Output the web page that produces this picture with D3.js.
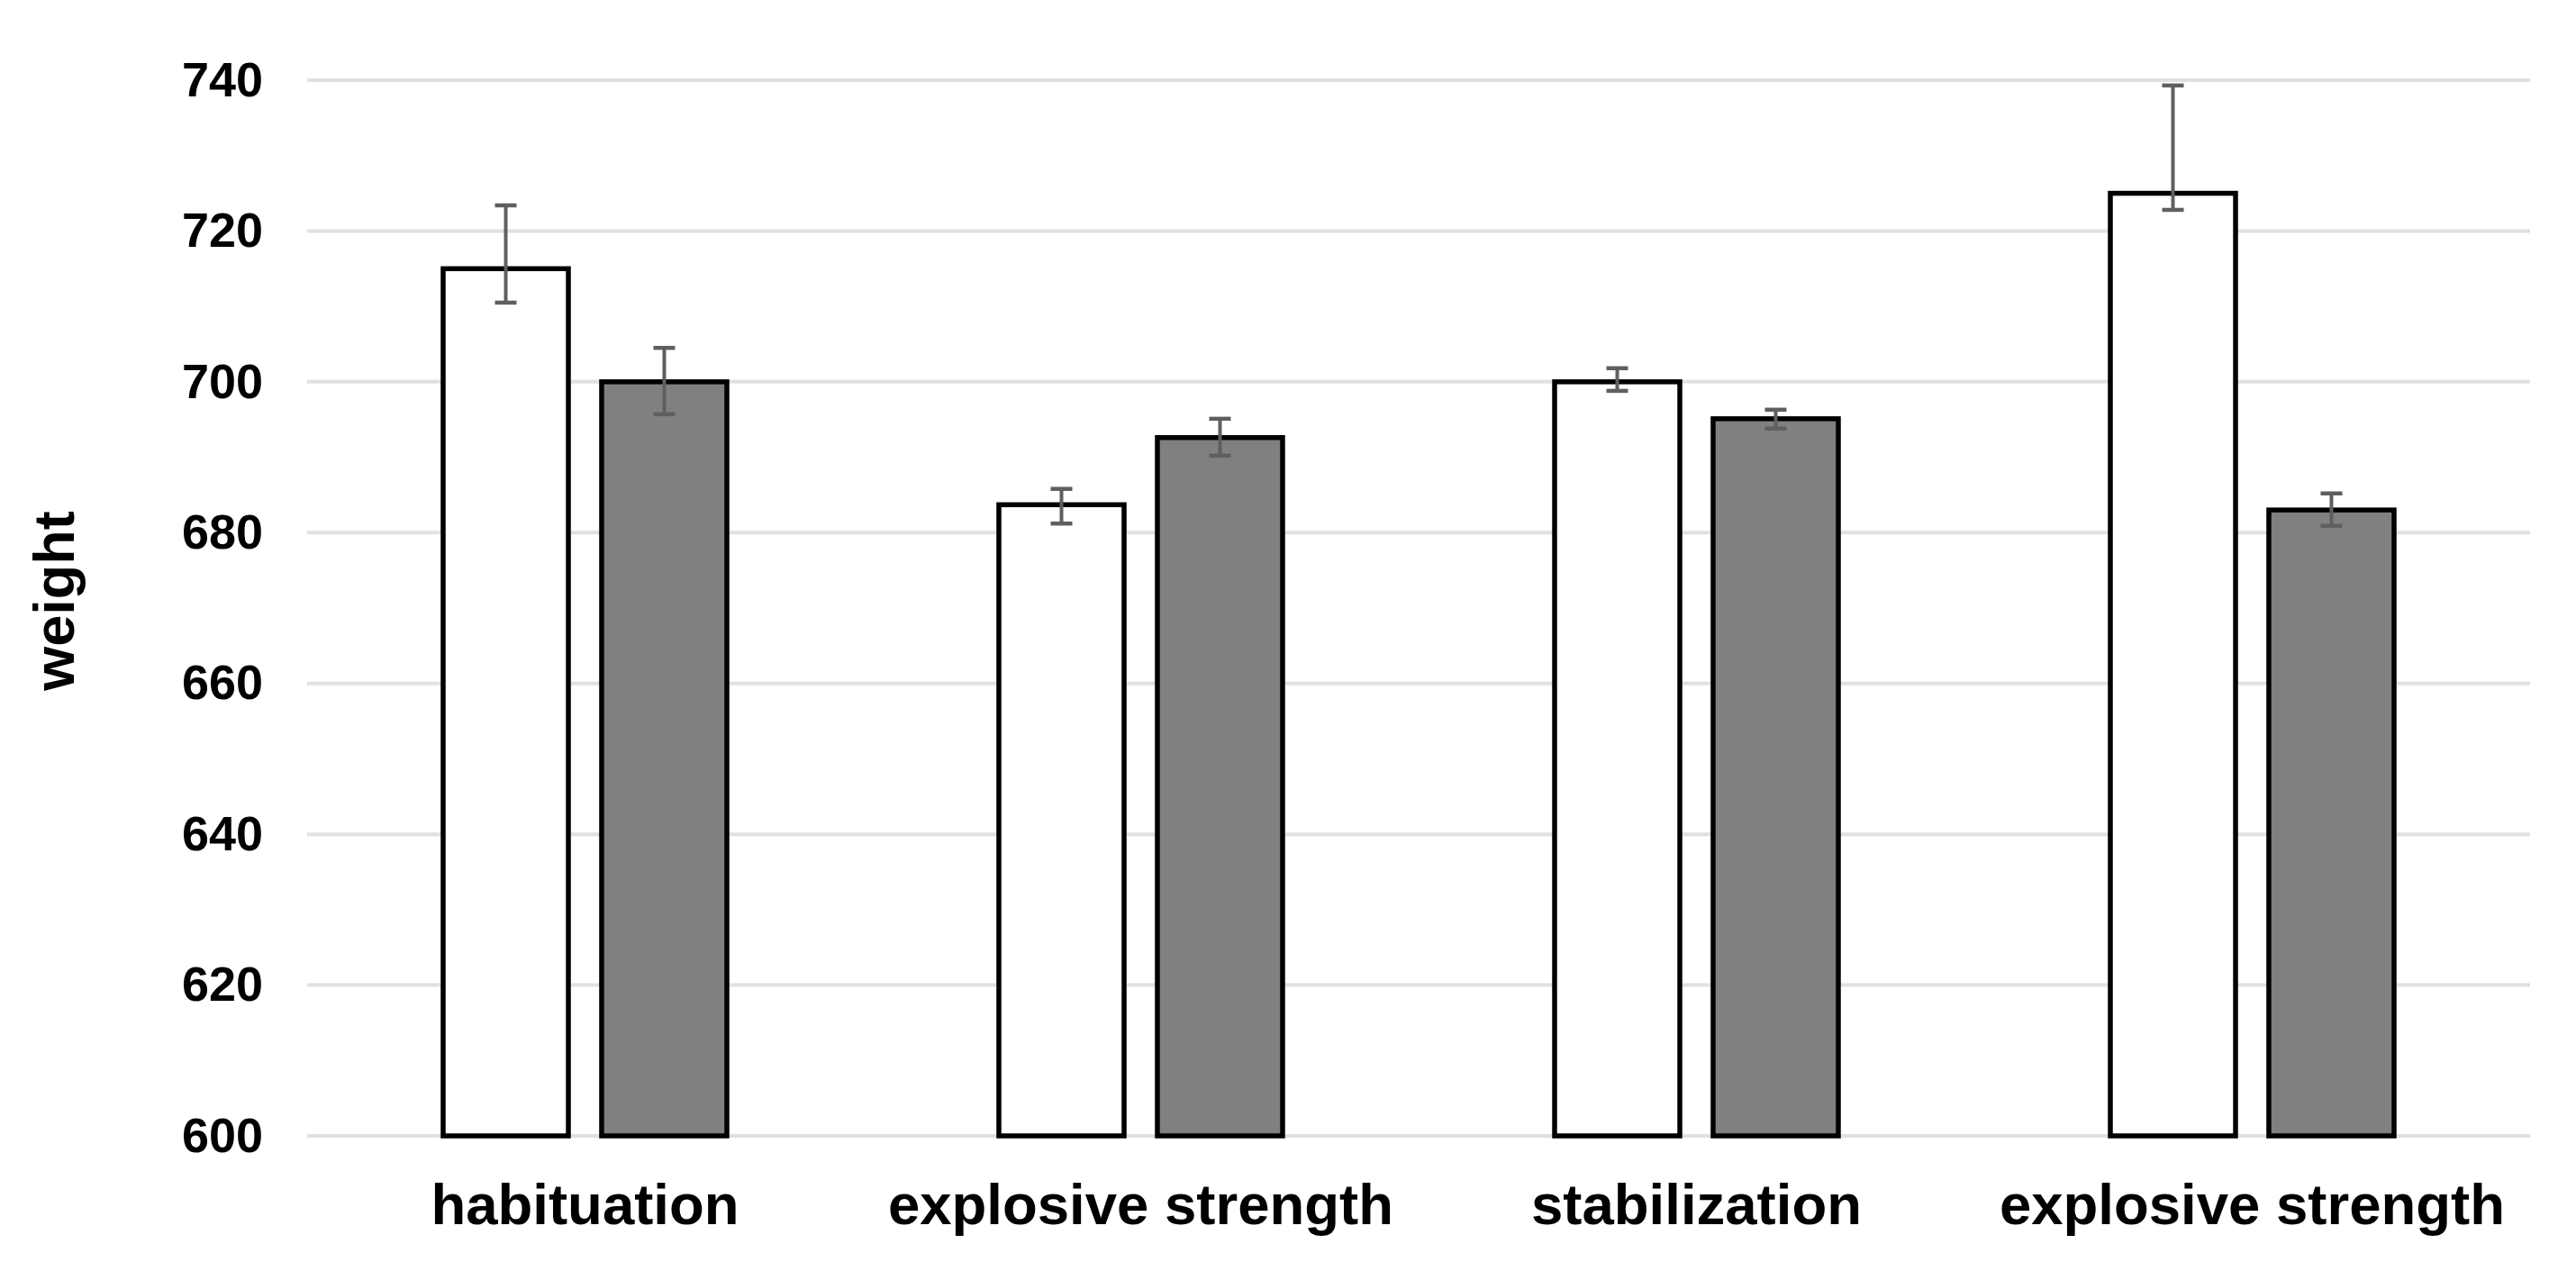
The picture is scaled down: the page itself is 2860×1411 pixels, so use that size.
<!DOCTYPE html>
<html>
<head>
<meta charset="utf-8">
<script src="https://cdn.jsdelivr.net/npm/d3@7"></script>
<style>
  body { margin: 0; background: #fff; }
  text { font-family: "Liberation Sans", Arial, sans-serif; font-weight: bold; fill: #000; }
</style>
</head>
<body>
<div id="chart"></div>
<script>
// data
var categories = ['habituation', 'explosive strength', 'stabilization', 'explosive strength '];
var series = ['white', 'grey'];
var whiteValues = [715, 683.7, 700, 725];
var whiteUpper = [723.4, 685.8, 701.8, 739.3];
var whiteLower = [710.5, 681.2, 698.8, 722.8];
var greyValues = [700, 692.6, 695.1, 683];
var greyUpper = [704.5, 695.1, 696.3, 685.2];
var greyLower = [695.7, 690.2, 693.8, 680.9];
var yTicks = [600, 620, 640, 660, 680, 700, 720, 740];

var svgWidth = 2860;
var svgHeight = 1411;

var margin = { top: 89, right: 51, bottom: 150, left: 341 };
var width = svgWidth - margin.left - margin.right;
var height = 1261 - margin.top;

var svg = d3.select('#chart')
    .append('svg')
    .attr('width', svgWidth)
    .attr('height', svgHeight);

var chartGroup = svg.append('g')
    .attr('transform', `translate(${margin.left}, ${margin.top})`);

// scales
var x0 = d3.scaleBand()
    .domain(categories)
    .range([0, width])
    .padding(0);

var x1 = d3.scaleBand()
    .domain(series)
    .range([-157.5, 157.5])
    .paddingInner(0.21)
    .paddingOuter(0);

var yScale = d3.scaleLinear()
    .domain([600, 740])
    .range([height, 0]);

// gridlines
chartGroup.append('g')
    .selectAll('line')
    .data(yTicks)
    .enter()
    .append('line')
    .attr('x1', 0)
    .attr('x2', width)
    .attr('y1', d => yScale(d))
    .attr('y2', d => yScale(d))
    .attr('stroke', '#e0e0e0')
    .attr('stroke-width', 4);

// y axis labels
var leftAxis = d3.axisLeft(yScale)
    .tickValues(yTicks)
    .tickSize(0)
    .tickPadding(49);

var yAxis = chartGroup.append('g').call(leftAxis);
yAxis.select('.domain').remove();
yAxis.selectAll('text')
    .attr('font-size', 54)
    .attr('font-family', '"Liberation Sans", Arial, sans-serif')
    .attr('font-weight', 'bold')
    .attr('fill', '#000');

// rows for bars
var rows = [];
categories.forEach(function(c, i) {
    rows.push({ cat: c, s: 'white', v: whiteValues[i], hi: whiteUpper[i], lo: whiteLower[i] });
    rows.push({ cat: c, s: 'grey', v: greyValues[i], hi: greyUpper[i], lo: greyLower[i] });
});

var xPos = d => x0(d.cat) + x0.bandwidth() / 2 + x1(d.s);

chartGroup.selectAll('rect.bar')
    .data(rows)
    .enter()
    .append('rect')
    .attr('class', 'bar')
    .attr('x', d => xPos(d))
    .attr('width', x1.bandwidth())
    .attr('y', d => yScale(d.v))
    .attr('height', d => yScale(600) - yScale(d.v))
    .attr('fill', d => d.s === 'white' ? '#ffffff' : '#808080')
    .attr('stroke', '#000')
    .attr('stroke-width', 5.5);

// error bars
var errGroup = chartGroup.selectAll('g.err')
    .data(rows)
    .enter()
    .append('g')
    .attr('class', 'err')
    .attr('stroke', '#5f5f5f')
    .attr('stroke-width', 4);

errGroup.append('line')
    .attr('x1', d => xPos(d) + x1.bandwidth() / 2)
    .attr('x2', d => xPos(d) + x1.bandwidth() / 2)
    .attr('y1', d => yScale(d.hi))
    .attr('y2', d => yScale(d.lo));

['hi', 'lo'].forEach(function(k) {
    errGroup.append('line')
        .attr('x1', d => xPos(d) + x1.bandwidth() / 2 - 12)
        .attr('x2', d => xPos(d) + x1.bandwidth() / 2 + 12)
        .attr('y1', d => yScale(d[k]))
        .attr('y2', d => yScale(d[k]))
        .attr('stroke-width', 4.5);
});

// category labels
chartGroup.selectAll('text.cat')
    .data(categories)
    .enter()
    .append('text')
    .attr('class', 'cat')
    .attr('x', d => x0(d) + x0.bandwidth() / 2)
    .attr('y', 1359 - margin.top)
    .attr('text-anchor', 'middle')
    .attr('font-size', 63.5)
    .text(d => d.trim());

// y axis title
svg.append('text')
    .attr('transform', 'translate(82, 667) rotate(-90)')
    .attr('text-anchor', 'middle')
    .attr('font-size', 63)
    .text('weight');
</script>
</body>
</html>
